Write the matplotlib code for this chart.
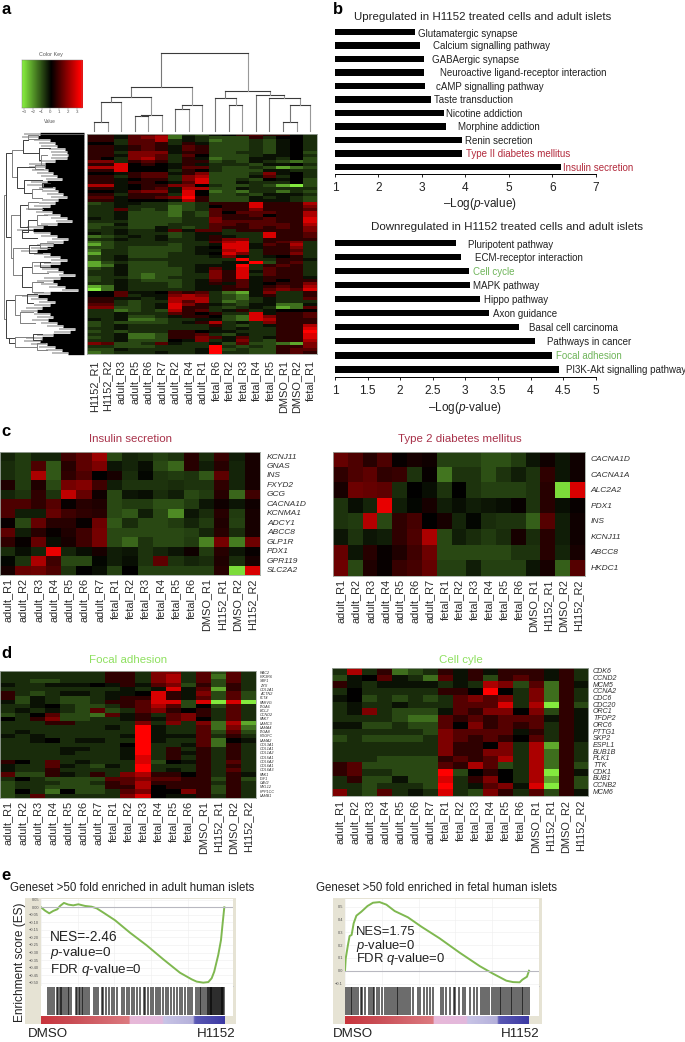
import matplotlib
matplotlib.use("Agg")
import matplotlib.pyplot as plt
import numpy as np
from matplotlib.colors import LinearSegmentedColormap
from matplotlib.patches import Rectangle

plt.rcParams['font.family'] = ['Liberation Sans', 'DejaVu Sans']
plt.rcParams['mathtext.fontset'] = 'custom'
plt.rcParams['mathtext.rm'] = 'Liberation Sans'
plt.rcParams['mathtext.it'] = 'Liberation Sans:italic'

W, H = 685, 1042
cmap = LinearSegmentedColormap.from_list('gbr', ['#88f040', '#000000', '#ff0000'])
LEVELS = dict(a=-3.2, b=-2.3, c=-1.5, d=-1.0, e=-.6, f=-.25)
LEVELS.update({'0': 0, '1': .6, '2': 1.1, '3': 1.6, '4': 2.2, '5': 2.8, '6': 3.3})

# ---------- panel a ----------
a_cols = ['H1152_R1', 'H1152_R2', 'adult_R3', 'adult_R5', 'adult_R6', 'adult_R7', 'adult_R2', 'adult_R4', 'adult_R1',
          'fetal_R6', 'fetal_R2', 'fetal_R3', 'fetal_R4', 'fetal_R5', 'DMSO_R1', 'DMSO_R2', 'fetal_R1']
a_rows = """11f 223 ced f0121 10e
11f 234 cfe ddd1e 00e
11e 224 efe cdded f0e
00e 221 e1f ddded f0e
11f 121 f21 ddded f0e
11f 121 f21 ddded f0e
11e 333 f11 ddeed f0d
11f 332 e20 dddef f0e
10e 342 e1f cddff e0d
33e 121 e11 dedfe dcd
115 010 f1f eeedf f0e
445 000 f22 edded bcd
115 000 e10 edddf fee
00f 122 f13 ddde3 f0e
11e 122 e34 dddf2 e0e
11f 011 e35 dded0 f0d
11f 110 f25 ddfee e0d
44f 011 330 edded bad
11f 012 f44 ddfee eee
00f 233 f50 cdcee ced
11e 111 e50 ddedf ffe
22f 112 361 dddfe fed
11f 000 f41 dddff fed
def fee dde 11151 114
eef eee cde 01151 113
ee2 ede cde 21131 112
eef ddd ced 20222 114
eef ddd ced 21120 114
fef ddd dee 31112 115
eee ddd dee 32222 115
ddf ddd eee 22122 214
dee ddf ede 21121 213
eef eef 2f2 2e111 113
fef eee def feee5 112
cde fef def 1fee5 112
eef eef eef 133e1 111
cde eee eee 245e1 23e
bde eee dee f55f2 14e
dde ddd def 055f1 13e
cee ddd def f45e1 12e
bee ddd eef 053e1 13e
def ddd eee f3fef 01e
def eee eee ee6ee 11f
bde ddd eee eff6d 12e
bcf ddd eef ff6e1 21e
def ddd def 2f5e2 11e
eef ddd def 315f2 11e
eef dcd dee 315e2 11e
dee dcd eee 315f1 11f
def edd def 212f1 011
eef eee def 1f2f0 113
bcf eee def f12f1 214
acf eee eef f11f2 325
002 ff0 212 ecbf3 ee1
002 eff 343 edcf1 ee1
11f fef 444 edcef ee2
11e dee 424 ecdef eee
22e def 531 fedff ccf
33d def 511 edefe bc2
eec ded 412 ef1ef 000
eef eee 210 1ee5f 112
eef dde f11 0dc53 112
fef ccd eef fdc54 111
ded ddd ef1 4efe3 111
def eee eee 1edef 114
eef eee eee fefee 115
ded eee 110 ffeee 116
eef ccd 112 edfee 115
def ccd 113 2f2ef 115
eef ddd 0f3 ef3ed 114
32d de2 fee fd2dd cb3
eed dde eee 6eded 113
ddf eee eef 6dedd 122
cde eef eef 6eedd 121""".split('\n')
a_tip_edge = [120,115,150,165,170,195,200,205,200,165,135,135,145,160,170,185,140,130,165,175,190,200,175,165,150,125,155,180,200,215,
              170,130,100,150,170,205,190,160,140,110,150,180,200,180,150,175,190,225,180,160,170,195,235,150,115,140,165,150,125,110,
              150,160,145,170,190,225,210,160,125,120,140,165,185,205]
# dendrogram elbows: parent height, child 1 pos, child 2 pos, child 1 height, child 2 height
a_left_elbows = [(12,195,567,18,18),(18,68,322,35,32),(35,60,140,68,50),(68,30,70,85,118),(85,15,28,115,118),(118,55,90,150,122),
                 (122,75,105,140,135),(50,110,175,105,72),(105,105,118,135,130),(72,150,190,125,95),(95,178,205,125,125),(125,160,170,150,155),
                 (32,255,385,60,38),(60,225,290,85,85),(85,215,238,115,130),(85,270,305,112,65),(112,255,285,140,140),(65,300,325,100,110),
                 (38,355,435,88,65),(88,345,370,120,125),(120,340,355,160,150),(65,410,470,95,95),(95,395,430,120,145),(120,395,410,150,150),
                 (95,455,485,130,130),(18,510,625,45,28),(45,495,555,80,60),(80,492,520,110,100),(60,545,580,100,105),(28,625,640,45,45),
                 (45,620,650,100,110),(100,612,630,125,125),(110,640,660,135,140)]
a_top_elbows = [(365,282,323,393,393),(307,302,363,365,393),(348,404,444,393,393),(344,424,485,348,393),(290,332,454,307,344),
                (327,525,566,393,393),(316,545,606,327,393),(262,393,575,290,316),(315,687,727,393,393),(295,646,707,393,315),
                (365,849,890,393,393),(316,869,930,365,393),(293,808,899,393,316),(286,768,853,393,293),(273,676,810,295,286),(160,484,743,262,273)]

# ---------- panel b ----------
up_terms = ['Glutamatergic synapse', 'Calcium signalling pathway', 'GABAergic synapse', 'Neuroactive ligand-receptor interaction',
            'cAMP signalling pathway', 'Taste transduction', 'Nicotine addiction', 'Morphine addiction', 'Renin secretion',
            'Type II diabetes mellitus', 'Insulin secretion']
up_vals = [2.83, 2.96, 3.05, 3.05, 3.07, 3.2, 3.5, 3.55, 3.92, 3.92, 6.2]
up_label_x = [418, 433, 432, 440, 436, 434, 446, 458, 465, 466, 563]
up_colors = ['#222222'] * 9 + ['#b22a3c', '#b22a3c']
down_terms = ['Pluripotent pathway', 'ECM-receptor interaction', 'Cell cycle', 'MAPK pathway', 'Hippo pathway', 'Axon guidance',
              'Basal cell carcinoma', 'Pathways in cancer', 'Focal adhesion', 'PI3K-Akt signalling pathway']
down_vals = [2.85, 2.94, 3.06, 3.07, 3.22, 3.37, 3.83, 4.07, 4.33, 4.44]
down_label_x = [468, 475, 473, 473, 484, 493, 529, 547, 556, 566]
down_colors = ['#222222', '#222222', '#6fb55a'] + ['#222222'] * 5 + ['#6fb55a', '#222222']

# ---------- panel c / d ----------
c_cols = ['adult_R1', 'adult_R2', 'adult_R3', 'adult_R4', 'adult_R5', 'adult_R6', 'adult_R7', 'fetal_R1', 'fetal_R2', 'fetal_R3',
          'fetal_R4', 'fetal_R5', 'fetal_R6', 'DMSO_R1', 'H1152_R1', 'DMSO_R2', 'H1152_R2']
c1_genes = ['KCNJ11', 'GNAS', 'INS', 'FXYD2', 'GCG', 'CACNA1D', 'KCNMA1', 'ADCY1', 'ABCC8', 'GLP1R', 'PDX1', 'GPR119', 'SLC2A2']
c1_vals = [[-.5,-.8,-.5,-.5,.8,1.2,2.0,-1,-.5,-.6,-.9,-.7,.5,-.6,.7,-.4,.3],
           [-.6,-.8,1,-1.2,.5,1.2,1.6,-.3,-.5,-.2,-1,-1.4,.5,-.4,.5,-.5,.3],
           [-.6,-.8,2.2,-1.2,.6,1,0,.3,-.6,-.1,-.7,-.8,-.7,-1.2,1.2,-.5,.3],
           [.4,-.8,.4,-1,1.5,1.7,.8,-.4,-.7,-.7,-.7,-.6,-.7,-.7,.6,-.5,.3],
           [-.5,-.7,.6,-.7,2.5,1.3,.2,-1,-.3,-.2,-.6,-.4,-1,-.8,.5,-1.4,.8],
           [1,1,.6,1.1,.1,.5,.4,-1,-.8,-.8,-1.1,-1.1,-.8,-.3,.2,-.3,.2],
           [1,-.4,-.4,1.3,.8,.6,.5,-1,-1.2,-.4,-1,-1.9,-.3,-.6,.5,-.8,.3],
           [.1,-1,1.3,.5,.5,.1,1.4,-1.2,-.6,-1,-1,-.8,-.5,-.8,.4,-.9,.3],
           [1.2,-.4,.5,.1,.4,.8,1.5,-1,-1,-1,-1,-1,-.9,-.5,.5,-.6,.3],
           [.6,.1,1.3,-.2,.3,.8,1.5,-1,-1.4,-.7,-1,-1,-.8,-1.8,1.5,-1.7,1.4],
           [-.6,-.2,-.5,3,-.5,-.2,.3,-.4,-.3,-.7,-.5,-.3,.2,-.8,.5,-.3,.1],
           [-.1,-.7,2.2,.8,-1,-1,-.1,-.4,-.2,-.7,1.2,-.7,-.5,-.6,.4,-.6,.3],
           [.3,1.3,1.4,1,-.7,0,-.2,-.9,0,-.9,-.9,-.9,-.9,-.9,.5,-3,2.8]]
c2_genes = ['CACNA1D', 'CACNA1A', 'ALC2A2', 'PDX1', 'INS', 'KCNJ11', 'ABCC8', 'HKDC1']
c2_vals = [[1.3,1,.5,1,.1,.3,.2,-.9,-.9,-.9,-1.1,-1.1,-.8,-.3,.2,-.3,.2],
           [.6,1,1.2,.6,.7,-.7,.1,-1.6,-.7,-.7,-1.1,-.7,-.4,-.7,.6,-.3,.2],
           [.3,1.4,1.3,1.2,-.6,0,-.2,-.7,0,-.7,-.9,-.9,-.9,-.7,.5,-3,2.8],
           [-.7,-.2,-.5,3,-.4,-.1,.3,-.4,-.2,-.4,-.3,-.2,.1,-.7,.5,-.2,.1],
           [-.7,-.8,2.3,-1,.6,.9,0,.3,-.5,-.1,-.6,-.7,-.7,-1.3,1.1,-.4,.2],
           [-.3,-.7,-.3,-.4,.6,1,2.2,-1,-.4,-.6,-.8,-.6,.3,-.6,.5,-.4,.2],
           [1.3,-.3,.5,.1,.4,.8,1.4,-1,-1,-1,-1,-1,-.7,-.7,.5,-.5,.3],
           [1.4,-1,.4,.1,.7,.9,1.3,-.9,-.9,-.4,-.9,-.9,-.9,-.3,.3,-1.3,1.1]]
d1_genes = ['RAC2', 'PIK3R6', 'SBF1', 'ZYX', 'COL2A1', 'ACTN2', 'FLT4', 'PARVG', 'ITGA6', 'BCL2', 'CCND2', 'PAK7', 'LAMC3', 'LAMA4',
            'ITGA8', 'PDGFC', 'LAMA2', 'COL3A1', 'COL1A1', 'COL1A2', 'COL5A1', 'COL6A2', 'COL6A1', 'COL6A3', 'PAK1', 'IGF1', 'CAV2',
            'MYL12', 'PPP1CC', 'LAMB1']
d1_rows = """eeeeeee 11e33e 2d2e
eeeeeee 11e34e 2c2e
eeddeee 11e34e 2d2e
feefff0 f1f23d 1d1e
eeeeeee efef5f 2b1e
1edeffe ff051f 3d2d
1dfedde f1151f 2d2d
fdfedde 11255d 5a5a
eef0edd e1242d 0d2e
efefed2 de2310 1e2e
de02ddc 2f1e23 1e2e
0e13dde ef1f23 0e2e
eee11ee ee3e3e 3c4b
eeeeeee fe6fee 2c3c
efeeeee ee6fee 2d2d
fefeeee ef6fff 2e1e
eef0eff ee6fee 2c0f
eeeeeee e06eef 2c1e
eeeeffe ef6e1e 1e1e
eeeefee ef6e1f 1e1e
eeeeeee ef5e1e 1e1e
10e2efe ee5d0f 1e2e
fee2fed fe6eee 1e1e
fee1eee ee6efe 1e2e
2dd1fe1 e34110 1e1f
e0edddd 223221 1d1d
deeedde 124111 1e1e
deedddd 114011 1d1e
d0ec0dd e23003 1d1e
de2eeee e350ff 1e1e""".split('\n')
d2_genes = ['CDK6', 'CCND2', 'MCM5', 'CCNA2', 'CDC6', 'CDC20', 'ORC1', 'TFDP2', 'ORC6', 'PTTG1', 'SKP2', 'ESPL1', 'BUB1B', 'PLK1',
            'TTK', 'CDK1', 'BUB1', 'CCNB2', 'MCM6']
d2_rows = """e4e1cde 1f1f11 1f1e
df02fec 2f1d12 1f1e
1feffff efe43d 2c1f
e0eeeee 11060e 3c1e
f0deded e2323e 3c1e
efeefee e2225e 4a1d
ef3eddd f21330 3d1f
eeeedcc 212122 2f1f
ffddedd 203121 2e1f
eeeeeed 32222f 1e1f
dedddde 321210 2e1f
eeeeeee 31103e 4b1e
eeeeeee 31133e 4c1e
eeedddd 12124e 4c1e
12ddddd 2142de 4c1d
12eeddd 6d010e 4a1f
e1ddfdd 5e130e 4b1d
eedeeed 6ef23f 5a1d
3ed2efe 5ed31e 2d1f""".split('\n')

# ---------- panel e ----------
e1_rank = [0,2.2,4.5,6.7,8.9,10.4,12.5,14.9,17.6,20.4,24,27.6,30.4,34,40.4,48.5,57.6,66.7,75.8,82.2,84.9,88.5,91.3,93.1,94.5,96.7,98.2,99.1,100]
e1_es = [0,-.022,-.04,-.024,-.013,.009,.029,.018,.013,.02,.009,.004,-.007,-.035,-.086,-.168,-.252,-.345,-.434,-.478,-.493,-.5,-.496,-.471,-.427,-.316,-.217,-.106,0]
e1_hits = [4,4.9,6.2,7.1,8.5,9.5,10.4,10.9,11.5,12.5,13.5,14.9,15.5,16.5,19.1,19.8,20.5,21.3,22.2,23.1,24.2,25.3,26.4,28.9,30,31.1,33.1,34,35.5,37.1,
           38.5,39.8,41.6,44,45.5,46.7,47.8,49.5,51,52.5,54,56,57,58.5,60,61.2,62.5,64,65,66.5,68,69.5,71,72.5,74,76,77,78.5,80,81.5,82.5,84.5,85.5,86.5,87.5,
           88.5,89.5,90.5,91,91.5,92,92.5,93,93.5,94,94.5,95,95.5,96,96.5,97,97.5,98,98.5,99,99.5,100]
e2_rank = [0,.4,1.6,2.5,3.6,4.7,6.2,8.9,12.2,15.2,18.8,22.5,27,34.2,41.5,51.4,62.3,73.2,80.4,87.7,91.3,94.9,96.4,98.9,100]
e2_es = [0,.096,.201,.271,.279,.37,.43,.461,.505,.531,.536,.516,.466,.417,.344,.253,.141,.036,-.023,-.078,-.089,-.091,-.07,-.047,0]
e2_hits = [0,1,2,3,4,5,6,7,8.5,9.5,11,13,14,15,16,17.5,18.5,20,21.5,23,24,25,26,27,28,29,30,31,32,33,34,35.5,37,39.5,41,43,44.5,46,48,52,53.5,55,57,59,60,
           62,64,65,68,70,72,74,75,76,77,78,80,81,82,83,84,85,86,87,88,89,90,91,92,93,94,95,96,97,98,99,100]
e1_ticks = [.05,0,-.05,-.10,-.15,-.20,-.25,-.30,-.35,-.40,-.45,-.50]
e2_ticks = [.5,.4,.3,.2,.1,0,-.1]
rank_stops = [(0,'#c9343c'),(.15,'#c84a52'),(.48,'#dc7a80'),(.485,'#e8b8d8'),(.66,'#e2b8dc'),(.67,'#c8c4e6'),(.83,'#b4b0da'),(.84,'#5a58b4'),(1,'#3c3aa4')]

fig = plt.figure(figsize=(W / 100, H / 100), dpi=100, facecolor='white')


def px_ax(x0, y0, x1, y1, **kw):
    return fig.add_axes([x0 / W, 1 - y1 / H, (x1 - x0) / W, (y1 - y0) / H], **kw)


under = px_ax(0, 0, W, H, zorder=-5)
under.set_xlim(0, W); under.set_ylim(H, 0); under.axis('off')
over = px_ax(0, 0, W, H, zorder=20)
over.set_xlim(0, W); over.set_ylim(H, 0); over.axis('off'); over.patch.set_alpha(0)


def txt(x, y, s, size=8, color='#222222', ha='left', va='center', **kw):
    over.text(x, y, s, fontsize=size, color=color, ha=ha, va=va, **kw)


def parse(rows):
    return np.array([[LEVELS[c] for c in r.replace(' ', '')] for r in rows])


def heat(box, data, cols, label_size=7.9, gap=3):
    ax = px_ax(*box)
    ax.imshow(data, cmap=cmap, vmin=-3.3, vmax=3.3, aspect='auto', interpolation='nearest')
    ax.set_xticks([]); ax.set_yticks([])
    for s in ax.spines.values():
        s.set_color('#a0a8a0'); s.set_linewidth(.6)
    cw = (box[2] - box[0]) / len(cols)
    for i, c in enumerate(cols):
        txt(box[0] + cw * (i + .5), box[3] + gap, c, size=label_size, color='#2a2a2a', rotation=90, ha='center', va='top')
    return ax


def gene_labels(box, genes, x, size):
    rh = (box[3] - box[1]) / len(genes)
    for i, g in enumerate(genes):
        txt(x, box[1] + rh * (i + .5), g, size=size, style='italic', color='#303030')


# panel a
for s, y in zip('abcde', [10, 10, 432, 653, 876]):
    txt(333 if s == 'b' else 1, y, s, size=12, color='black', fontweight='bold')
heat((87, 133.5, 317, 354), parse(a_rows), a_cols, label_size=7.9, gap=6)

key = px_ax(21.5, 60, 82, 108)
key.imshow(np.linspace(-3.3, 3.6, 256)[None, :], extent=(-3.3, 3.6, 0, 1), cmap=cmap, vmin=-3.3, vmax=3.3, aspect='auto')
key.set_yticks([]); key.set_xticks(range(-3, 4))
key.set_xticklabels(['\u22123', '\u22122', '\u22121', '0', '1', '2', '3'], fontsize=3.2, color='#555555')
key.tick_params(length=1.2, width=.3, pad=.5, color='#666666')
for s in key.spines.values():
    s.set_linewidth(.3); s.set_color('#777777')
txt(51, 54.5, 'Color Key', size=3.9, ha='center', color='#555555')
txt(50, 121.5, 'Value', size=3.4, ha='center', color='#555555')

# column dendrogram (reference zoom coordinates divided by three)
for k, (yp, x1, x2, y1, y2) in enumerate(a_top_elbows):
    over.plot([x1 / 3, x1 / 3], [y1 / 3, yp / 3], color='#777777', lw=.8)
    over.plot([x2 / 3, x2 / 3], [y2 / 3, yp / 3], color='#999999', lw=.8)
    over.plot([x1 / 3, x2 / 3], [yp / 3, yp / 3], color='#3a3a3a', lw=.8)
# row dendrogram
for i, e in enumerate(a_tip_edge):
    yy = (12 + 9 * i) / 3 + 130
    over.hlines(yy, e / 3 - 16, e / 3, color='#a8a8a8', lw=1.1)
    over.hlines(yy, e / 3, 84, color='black', lw=2.4)
for k, (xp, y1, y2, x1, x2) in enumerate(a_left_elbows):
    over.plot([x1 / 3, xp / 3, xp / 3, x2 / 3], [y1 / 3 + 130, y1 / 3 + 130, y2 / 3 + 130, y2 / 3 + 130],
              color='#3f3f3f' if k % 2 else '#808080', lw=.7)
over.plot([84.5, 84.5], [133.5, 354], color='#999999', lw=.5)
over.plot([40, 84.5], [133.5, 133.5], color='#888888', lw=.5)


# panel b
def bars(box, vals, xlim, ticks, terms, xs, colors, ylim):
    ax = px_ax(*box)
    ypos = np.arange(len(vals))
    ax.barh(ypos, np.array(vals) - xlim[0], left=xlim[0], height=.46, color='black')
    ax.set_xlim(*xlim); ax.set_ylim(*ylim)
    ax.set_yticks([]); ax.set_xticks(ticks)
    ax.set_xticklabels([f'{t:g}' for t in ticks], fontsize=8.6, color='#222222')
    ax.tick_params(axis='x', length=2, width=.6, pad=4)
    for s in ['top', 'left', 'right']:
        ax.spines[s].set_visible(False)
    ax.spines['bottom'].set_linewidth(.7)
    ax.patch.set_alpha(0)
    y0, y1 = box[1], box[3]
    for i, (t, x, c) in enumerate(zip(terms, xs, colors)):
        yy = y0 + (i - ylim[1]) / (ylim[0] - ylim[1]) * (y1 - y0)
        txt(x, yy + (.8 if i else 2.2), t, size=7, color=c)


bars((335, 25, 595.7, 173.7), up_vals, (1, 7), [1, 2, 3, 4, 5, 6, 7], up_terms, up_label_x, up_colors, (10.5, -.52))
bars((335, 236, 595.7, 376.7), down_vals, (1, 5), [1, 1.5, 2, 2.5, 3, 3.5, 4, 4.5, 5], down_terms, down_label_x, down_colors, (9.52, -.48))
txt(483, 17, 'Upregulated in H1152 treated cells and adult islets', size=8.25, ha='center')
txt(507, 227, 'Downregulated in H1152 treated cells and adult islets', size=8.25, ha='center')
LOGP = r'$\mathrm{\u2013Log(}\mathit{p}\mathrm{\text{-}value)}$'.replace(r'\u2013', '\u2013')
txt(480, 204, LOGP, size=8.5, ha='center')
txt(465, 408, LOGP, size=8.5, ha='center')

# panels c, d
b1 = (0, 452.3, 260, 575.3)
b2 = (333.3, 451.7, 585.3, 576.3)
heat(b1, np.array(c1_vals), c_cols)
heat(b2, np.array(c2_vals), c_cols)
gene_labels(b1, c1_genes, 267, 6)
gene_labels(b2, c2_genes, 590.7, 6)
txt(131, 439, 'Insulin secretion', size=8.25, color='#a8324a', ha='center')
txt(460, 439, 'Type 2 diabetes mellitus', size=8.25, color='#a8324a', ha='center')
b3 = (0, 670.7, 255.7, 798)
b4 = (331.7, 668.3, 588, 795.7)
heat(b3, parse(d1_rows), c_cols)
heat(b4, parse(d2_rows), c_cols, gap=4)
gene_labels(b3, d1_genes, 260, 2.7)
gene_labels(b4, d2_genes, 593, 5.1)
txt(128, 660, 'Focal adhesion', size=8.25, color='#8fe060', ha='center')
txt(461, 660, 'Cell cyle', size=8.25, color='#8fe060', ha='center')


# panel e
def enrich(outer, left, xmax_px, px_per_rank, zero_y, px_per_es, rank, es, hits, ticks, title, title_x, stats, ylabel=False):
    under.add_patch(Rectangle((outer[0], outer[1]), outer[2] - outer[0], outer[3] - outer[1], color='#e6e3d4', lw=0))
    ax = px_ax(left, 899, xmax_px, 986)
    ax.set_xlim(0, (xmax_px - left) / px_per_rank)
    ax.set_ylim((zero_y - 986) / px_per_es, (zero_y - 899) / px_per_es)
    ax.plot(rank, es, color='#7fb850', lw=1.4)
    ax.axhline(0, color='#b8b8c0', lw=.8)
    ax.set_yticks(ticks)
    ax.set_yticklabels([(f'{t:.2f}' if len(ticks) > 8 else f'{t:.1f}').replace('-', '\u2212') for t in ticks], fontsize=2.9, color='#555555')
    ax.tick_params(axis='y', length=0, pad=1.5)
    ax.set_xticks(np.arange(0, 100, 20))
    ax.set_xticklabels([])
    ax.tick_params(axis='x', length=0)
    ax.grid(color='#eeeeee', lw=.4)
    ax.set_axisbelow(True)
    for s in ax.spines.values():
        s.set_visible(False)
    ax.spines['bottom'].set_visible(True); ax.spines['bottom'].set_color('#c4c4cc'); ax.spines['bottom'].set_linewidth(.6)

    bc = px_ax(left, 986, xmax_px, 1016)
    bc.set_xlim(0, (xmax_px - left) / px_per_rank); bc.set_ylim(0, 1)
    bc.vlines(hits, .03, .97, color='black', lw=1.15, alpha=.72)
    bc.set_xticks([]); bc.set_yticks([])
    for s in bc.spines.values():
        s.set_visible(False)
    st = px_ax(left, 1016, xmax_px, 1023.5)
    cm = LinearSegmentedColormap.from_list('rank', rank_stops)
    st.imshow(np.linspace(0, 1, 300)[None, :], extent=(0, 100, 0, 1), cmap=cm, aspect='auto')
    st.set_xlim(0, (xmax_px - left) / px_per_rank); st.set_ylim(0, 1)
    st.axis('off')
    txt(title_x, 888, title, size=8.3)
    for (x, y, s, fs) in stats:
        txt(x, y, s, size=fs, color='#222222')
    txt(outer[0] + (3 if ylabel else 0), 1034, 'DMSO', size=9.6)
    txt(outer[2] + (0 if ylabel else -2), 1034, 'H1152', size=9.6, ha='right')


enrich((25, 898, 236, 1024), 41, 233, 1.833, 907.3, 150.7, e1_rank, e1_es, e1_hits, e1_ticks,
       'Geneset >50 fold enriched in adult human islets', 10,
       [(50, 937, 'NES=-2.46', 9.9), (50, 953, r'$\mathit{p}$-value=0', 9.7), (50, 970, r'FDR $\mathit{q}$-value=0', 9.6)], ylabel=True)
enrich((333, 898, 542, 1024), 345, 539, 1.84, 970.7, 128, e2_rank, e2_es, e2_hits, e2_ticks,
       'Geneset >50 fold enriched in fetal human islets', 316,
       [(356, 931.7, 'NES=1.75', 9.4), (356, 945.7, r'$\mathit{p}$-value=0', 9.4), (356, 959.3, r'FDR $\mathit{q}$-value=0', 9.4)])
txt(20, 962, 'Enrichment score (ES)', size=8.6, rotation=90, ha='center')

fig.savefig('out.png', dpi=100)
